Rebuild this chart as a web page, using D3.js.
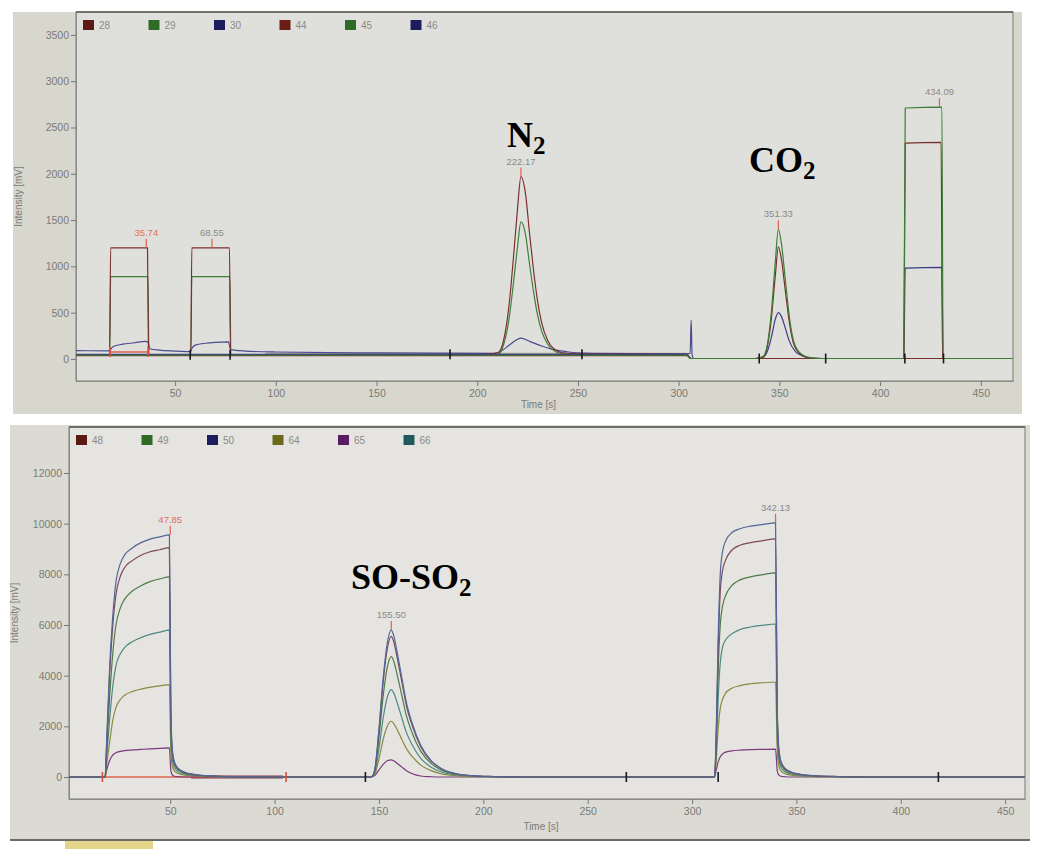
<!DOCTYPE html>
<html>
<head>
<meta charset="utf-8">
<script src="https://cdn.jsdelivr.net/npm/d3@7"></script>
<style>
  body { margin: 0; background: #fff; }
  svg text { font-family: "Liberation Sans", Arial, sans-serif; }
</style>
</head>
<body>
<div id="chart"></div>
<script>
// ---------- upper chromatogram (N2 / CO2) ----------
const topTicksX = [50, 100, 150, 200, 250, 300, 350, 400, 450];
const topTicksY = [0, 500, 1000, 1500, 2000, 2500, 3000, 3500];
const topLegend = ["28", "29", "30", "44", "45", "46"];

const trace28 = [[0.8,45],[17.5,45],[18,1200],[36.3,1200],[36.8,48],[57.8,45],[58.3,1200],[77,1200],[77.5,48],[150,48],[205,50],
  [210,65],[212,120],[214,300],[216,620],[218,1100],[220,1620],[221.7,1970],[224,1780],[226,1350],[228,950],[230,620],
  [232,390],[235,200],[238,110],[242,70],[250,55],[304,50],[306,5],[466,5]];
const trace29 = [[0.8,40],[17.5,40],[18,890],[36.5,890],[37,40],[57.8,40],[58.3,890],[77.2,890],[77.7,40],[205,40],
  [210,45],[212,90],[214,225],[216,465],[218,820],[220,1210],[221.7,1480],[224,1340],[226,1020],[228,720],[230,470],
  [232,300],[235,160],[238,90],[242,55],[250,45],[304,45],[306,5],[466,5]];
const trace30 = [[0.8,90],[17.5,88],[18.5,120],[20,140],[24,160],[30,175],[35,190],[36.5,185],[37.5,110],[42,95],[50,85],
  [57.5,80],[58.5,120],[60,150],[65,170],[70,180],[76.5,185],[77.5,100],[85,85],[100,75],[150,65],[208,60],[211,75],
  [216,150],[219,200],[221.7,225],[226,190],[232,140],[238,100],[244,80],[250,65],[257,60],[304,55],[305.7,60],
  [306.2,420],[306.7,40],[307.5,5],[466,5]];
const trace44 = [[0.8,35],[304,35],[306,5],[338,5],[342,20],[344,130],[346,430],[348,900],[349.5,1210],[351,1080],
  [353,730],[355,390],[357,170],[360,60],[364,15],[370,5],[411.8,5],[412.5,2330],[430.3,2340],[431,5],[466,5]];
const trace45 = [[0.8,40],[304,40],[306,5],[338,5],[342,30],[344,150],[346,500],[348,1050],[349.5,1400],[351,1250],
  [353,850],[355,450],[357,200],[360,70],[364,20],[370,5],[411.8,5],[412.5,2710],[430.7,2720],[431.3,5],[466,5]];
const trace46 = [[0.8,50],[304,50],[306,5],[338,5],[342,20],[344,80],[346,230],[348,430],[349.5,500],[351,460],
  [353,330],[355,190],[358,80],[362,30],[366,10],[372,5],[411.8,5],[412.5,980],[430.7,990],[431.3,5],[466,5]];

// grey integration band along the baseline before the valve switch
const topBand = [[95,52],[304,52]];

const topPeakTimes = [35.7, 68.3, 221.7, 349.5, 429.5];
const topPeakHeights = [1200, 1200, 1970, 1400, 2720];
const topPeakTexts = ["35.74", "68.55", "222.17", "351.33", "434.09"];

const topIntTimes = [17.7, 36.6, 57.5, 77.3, 186.5, 252, 340, 373, 412.3, 431.5];
const topIntValues = [75, 75, 45, 45, 50, 50, 5, 5, 5, 5];

// ---------- lower chromatogram (SO / SO2) ----------
const botTicksX = [50, 100, 150, 200, 250, 300, 350, 400, 450];
const botTicksY = [0, 2000, 4000, 6000, 8000, 10000, 12000];
const botLegend = ["48", "49", "50", "64", "65", "66"];

const trace48 = [[1,0],[18.8,0],[19.5,1200],[21,4100],[22.5,6000],[24,7200],[26,7900],[28,8250],[32,8550],[36,8750],[40,8880],
  [45,8970],[49.6,9050],[50.3,2400],[51,1000],[52,560],[54,300],[57,170],[62,90],[70,40],[80,12],[95,0],
  [144,0],[146.5,20],[148,290],[150,1820],[152,3730],[154,5070],[155.9,5550],[157,5360],[159,4590],[161,3730],[163,2870],
  [166,2010],[170,1200],[175,620],[180,320],[186,145],[194,55],[205,18],[220,0],
  [310.8,0],[311.5,1400],[312.5,5000],[313.5,7300],[314.5,8100],[316,8550],[319,8950],[323,9150],[328,9250],[334,9330],
  [340,9400],[340.8,2600],[341.5,1100],[342.5,600],[344.5,320],[347.5,180],[352,100],[360,45],[370,18],[385,0],[460,0]];
const trace49 = [[1,0],[18.8,0],[19.5,1000],[21,3200],[22.5,4900],[24,6000],[26,6650],[28,7000],[32,7350],[36,7550],[40,7700],
  [45,7820],[49.6,7900],[50.3,2100],[51,900],[52,500],[54,270],[57,150],[62,80],[70,35],[80,10],[95,0],
  [144,0],[146.5,15],[148,250],[150,1560],[152,3190],[154,4340],[155.9,4750],[157,4590],[159,3930],[161,3200],[163,2460],
  [166,1720],[170,1020],[175,530],[180,270],[186,120],[194,50],[205,15],[220,0],
  [310.8,0],[311.5,1200],[312.5,4200],[313.5,6000],[314.5,6700],[316,7150],[319,7550],[323,7780],[328,7900],[334,7990],
  [340,8060],[340.8,2300],[341.5,1000],[342.5,520],[344.5,280],[347.5,160],[352,90],[360,40],[370,15],[385,0],[460,0]];
const trace50 = [[1,0],[18.8,0],[19.5,1300],[21,4400],[22.5,6400],[24,7700],[26,8400],[28,8750],[32,9050],[36,9250],[40,9380],
  [45,9480],[49.6,9560],[50.3,2600],[51,1100],[52,600],[54,330],[57,190],[62,100],[70,45],[80,15],[95,0],
  [144,0],[146.5,20],[148,300],[150,1900],[152,3900],[154,5300],[155.9,5800],[157,5600],[159,4800],[161,3900],[163,3000],
  [166,2100],[170,1250],[175,650],[180,330],[186,150],[194,60],[205,20],[220,0],
  [310.8,0],[311.5,1500],[312.5,5500],[313.5,8000],[314.5,8850],[316,9300],[319,9640],[323,9800],[328,9900],[334,9970],
  [340,10030],[340.8,2800],[341.5,1200],[342.5,650],[344.5,350],[347.5,200],[352,110],[360,50],[370,20],[385,0],[460,0]];
const trace64 = [[1,0],[18.8,0],[19.5,450],[21,1400],[22.5,2250],[24,2750],[26,3050],[28,3220],[32,3380],[36,3470],[40,3540],
  [45,3600],[49.6,3650],[50.3,1000],[51,430],[52,240],[54,130],[57,75],[62,40],[70,15],[80,5],[95,0],
  [144,0],[146.5,8],[148,115],[150,720],[152,1480],[154,2010],[155.9,2200],[157,2120],[159,1820],[161,1480],[163,1140],
  [166,800],[170,470],[175,250],[180,125],[186,55],[194,20],[205,5],[220,0],
  [310.8,0],[311.5,550],[312.5,1900],[313.5,2700],[314.5,3050],[316,3300],[319,3500],[323,3610],[328,3680],[334,3720],
  [340,3750],[340.8,1050],[341.5,460],[342.5,250],[344.5,130],[347.5,75],[352,40],[360,18],[370,6],[385,0],[460,0]];
const trace65 = [[1,0],[18.8,0],[19.5,250],[21,650],[22.5,870],[24,960],[26,1010],[28,1040],[32,1070],[36,1090],[40,1110],
  [45,1130],[49.6,1150],[50.3,250],[51,80],[52,30],[54,10],[57,0],
  [144,0],[146.5,5],[148,60],[150,280],[152,500],[154,640],[155.9,680],[157,640],[159,520],[161,390],[163,260],
  [166,130],[170,40],[175,10],[180,0],
  [310.8,0],[311.5,250],[312.5,600],[313.5,800],[314.5,900],[316,980],[319,1030],[323,1060],[328,1080],[334,1090],
  [340,1100],[340.8,250],[341.5,80],[342.5,30],[344.5,10],[347.5,0],[460,0]];
const trace66 = [[1,0],[18.8,0],[19.5,750],[21,2300],[22.5,3600],[24,4400],[26,4850],[28,5100],[32,5350],[36,5500],[40,5620],
  [45,5720],[49.6,5800],[50.3,1600],[51,700],[52,380],[54,200],[57,115],[62,60],[70,25],[80,8],[95,0],
  [144,0],[146.5,10],[148,180],[150,1130],[152,2320],[154,3150],[155.9,3450],[157,3330],[159,2860],[161,2320],[163,1790],
  [166,1250],[170,740],[175,390],[180,200],[186,90],[194,35],[205,10],[220,0],
  [310.8,0],[311.5,900],[312.5,3100],[313.5,4500],[314.5,5100],[316,5400],[319,5650],[323,5820],[328,5920],[334,5990],
  [340,6040],[340.8,1700],[341.5,750],[342.5,400],[344.5,210],[347.5,120],[352,65],[360,30],[370,10],[385,0],[460,0]];

const botBand = [[60,0],[104,0]];

const botPeakTimes = [50, 155.9, 340];
const botPeakHeights = [9560, 5800, 10030];
const botPeakTexts = ["47.85", "155.50", "342.13"];

const botIntTimes = [17.5, 105.5, 143.5, 268.5, 312.5, 418];
const botIntValues = [0, 0, 0, 0, 0, 0];

// ---------- panel definitions (layout + styling) ----------
const panels = [
  {
    screen: {x: 13, y: 12, w: 1009, h: 402, fill: "#d8d7cd"},
    plot: {left: 76, top: 12, right: 1013, bottom: 381, fill: "#dfe0dc"},
    xDomain: [0.8, 466], yDomain: [-238, 3747],
    ticksX: topTicksX, ticksY: topTicksY,
    legend: topLegend,
    swatches: ["#5e1b16", "#2f6a27", "#1d1d5c", "#6a1d15", "#2f6b28", "#1e1e5e"],
    traces: [trace30, trace29, trace28, trace46, trace44, trace45],
    traceColors: ["#4b4b8e", "#3f7f3a", "#7b3030", "#3c3c82", "#7a2f2a", "#3d7d36"],
    band: topBand, bandColor: "#a4a4a0",
    peaks: {t: topPeakTimes, v: topPeakHeights, text: topPeakTexts},
    integ: {t: topIntTimes, v: topIntValues},
    yLabelX: 22, timeLabelY: 408
  },
  {
    screen: {x: 10, y: 425, w: 1020, h: 414, fill: "#dcdbd3"},
    plot: {left: 69, top: 427, right: 1025, bottom: 799, fill: "#e5e4e0"},
    xDomain: [1.5, 459.5], yDomain: [-868, 13815],
    ticksX: botTicksX, ticksY: botTicksY,
    legend: botLegend,
    swatches: ["#5c1a14", "#2e6a25", "#1d1d5c", "#6b6a1a", "#5a1a64", "#1f5a58"],
    traces: [trace65, trace64, trace66, trace49, trace48, trace50],
    traceColors: ["#7a3a7c", "#8a8a42", "#4a8a80", "#4c7c48", "#7a4a5a", "#55659a"],
    band: botBand, bandColor: "#8a3040",
    peaks: {t: botPeakTimes, v: botPeakHeights, text: botPeakTexts},
    integ: {t: botIntTimes, v: botIntValues},
    yLabelX: 18, timeLabelY: 830
  }
];

const svg = d3.select("#chart")
  .append("svg")
  .attr("width", 1040)
  .attr("height", 855);

svg.append("rect").attr("width", 1040).attr("height", 855).attr("fill", "#fff");

panels.forEach((p, i) => {
  const g = svg.append("g");

  // screen background
  g.append("rect")
    .attr("x", p.screen.x).attr("y", p.screen.y)
    .attr("width", p.screen.w).attr("height", p.screen.h)
    .attr("fill", p.screen.fill);

  // plot area
  g.append("rect")
    .attr("x", p.plot.left).attr("y", p.plot.top)
    .attr("width", p.plot.right - p.plot.left)
    .attr("height", p.plot.bottom - p.plot.top)
    .attr("fill", p.plot.fill)
    .attr("stroke", "#8a8a86")
    .attr("stroke-width", 1.2);

  // top border of the screen is darker
  g.append("line")
    .attr("x1", p.plot.left).attr("x2", p.plot.right)
    .attr("y1", p.plot.top).attr("y2", p.plot.top)
    .attr("stroke", "#5a5a58").attr("stroke-width", 1.5);

  const x = d3.scaleLinear().domain(p.xDomain).range([p.plot.left, p.plot.right]);
  const y = d3.scaleLinear().domain(p.yDomain).range([p.plot.bottom, p.plot.top]);

  // axes (plain integers, no thousands separator)
  const xAxis = g.append("g")
    .attr("transform", `translate(0,${p.plot.bottom})`)
    .call(d3.axisBottom(x).tickValues(p.ticksX).tickFormat(d3.format("d"))
      .tickSize(5).tickSizeOuter(0).tickPadding(4));
  const yAxis = g.append("g")
    .attr("transform", `translate(${p.plot.left},0)`)
    .call(d3.axisLeft(y).tickValues(p.ticksY).tickFormat(d3.format("d"))
      .tickSize(5).tickSizeOuter(0).tickPadding(2));
  [xAxis, yAxis].forEach(a => {
    a.select(".domain").attr("stroke", "#8a8a86");
    a.selectAll(".tick line").attr("stroke", "#777");
    a.selectAll(".tick text").attr("fill", "#7a7a78").style("font-size", "10.5px");
  });

  g.append("text")
    .attr("transform", `translate(${p.yLabelX},${(p.plot.top + p.plot.bottom) / 2}) rotate(-90)`)
    .attr("text-anchor", "middle")
    .attr("fill", "#7a7a78")
    .style("font-size", "10px")
    .text("Intensity [mV]");

  g.append("text")
    .attr("x", (p.plot.left + p.plot.right) / 2 - 6)
    .attr("y", p.timeLabelY)
    .attr("text-anchor", "middle")
    .attr("fill", "#7a7a78")
    .style("font-size", "10px")
    .text("Time [s]");

  // legend
  const legend = g.append("g")
    .attr("transform", `translate(${p.plot.left + 7},${p.plot.top + 8})`);
  p.legend.forEach((name, k) => {
    legend.append("rect")
      .attr("x", k * 65.5).attr("y", 0)
      .attr("width", 11).attr("height", 10)
      .attr("fill", p.swatches[k]);
    legend.append("text")
      .attr("x", k * 65.5 + 16).attr("y", 9)
      .attr("fill", "#8a8a88")
      .style("font-size", "10px")
      .text(name);
  });

  // clip
  const clipId = "clip" + i;
  svg.append("clipPath").attr("id", clipId)
    .append("rect")
    .attr("x", p.plot.left).attr("y", p.plot.top + 1)
    .attr("width", p.plot.right - p.plot.left)
    .attr("height", p.plot.bottom - p.plot.top - 1);

  const plotG = g.append("g").attr("clip-path", `url(#${clipId})`);

  const line = d3.line()
    .x(d => x(d[0]))
    .y(d => y(d[1]))
    .curve(d3.curveMonotoneX);

  // thick integration band on the baseline
  plotG.append("path")
    .datum(p.band)
    .attr("d", d3.line().x(d => x(d[0])).y(d => y(d[1])))
    .attr("stroke", p.bandColor).attr("stroke-width", 3)
    .attr("fill", "none");

  // integration baseline between the first pair of markers
  plotG.append("line")
    .attr("x1", x(p.integ.t[0])).attr("x2", x(p.integ.t[1]))
    .attr("y1", y(p.integ.v[0])).attr("y2", y(p.integ.v[1]))
    .attr("stroke", "#e0624e").attr("stroke-width", 1.3);

  // traces
  p.traces.forEach((tr, k) => {
    plotG.append("path")
      .datum(tr)
      .attr("d", line)
      .attr("fill", "none")
      .attr("stroke", p.traceColors[k])
      .attr("stroke-width", 1.2);
  });

  // integration markers
  p.integ.t.forEach((t, k) => {
    plotG.append("line")
      .attr("x1", x(t)).attr("x2", x(t))
      .attr("y1", y(p.integ.v[k]) - 5).attr("y2", y(p.integ.v[k]) + 5)
      .attr("stroke", k < 2 ? "#d9503c" : "#1a1a1a")
      .attr("stroke-width", 1.6);
  });

  // peak labels
  p.peaks.t.forEach((t, k) => {
    const px = x(t), py = y(p.peaks.v[k]);
    plotG.append("line")
      .attr("x1", px).attr("x2", px)
      .attr("y1", py - 9).attr("y2", py)
      .attr("stroke", "#e0624e").attr("stroke-width", 1.2);
    plotG.append("text")
      .attr("x", px).attr("y", py - 12)
      .attr("text-anchor", "middle")
      .attr("fill", k === 0 ? "#e0705c" : "#8a8a88")
      .style("font-size", "9.5px")
      .text(p.peaks.text[k]);
  });
});

// strip under the lower photo
svg.append("rect").attr("x", 10).attr("y", 839).attr("width", 1020).attr("height", 2).attr("fill", "#6a6a66");
svg.append("rect").attr("x", 65).attr("y", 841).attr("width", 88).attr("height", 8).attr("fill", "#e4d58a");

// hand-written species annotations
function annotate(x, y, main, sub) {
  const t = svg.append("text")
    .attr("x", x).attr("y", y)
    .attr("fill", "#000")
    .style("font-family", "'Liberation Serif', 'Times New Roman', serif")
    .style("font-weight", "bold")
    .style("font-size", "36px")
    .text(main);
  t.append("tspan")
    .attr("dy", 7)
    .style("font-size", "25px")
    .text(sub);
}
annotate(507, 147, "N", "2");
annotate(749, 172, "CO", "2");
annotate(351, 589, "SO-SO", "2");
</script>
</body>
</html>
